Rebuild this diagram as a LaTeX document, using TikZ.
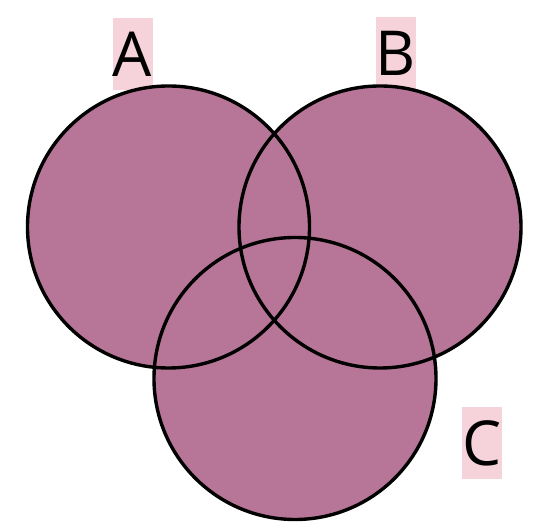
\documentclass[tikz,border=0pt]{standalone}
\usepackage{fontspec}
\setmainfont{Open Sans}
\definecolor{setfill}{RGB}{183,118,152}
\definecolor{tagpink}{RGB}{246,211,218}
\begin{document}
\begin{tikzpicture}[x=1pt, y=1pt,
  settag/.style={fill=tagpink, inner sep=0pt, minimum width=40pt, minimum height=72pt,
    font=\fontsize{62}{62}\selectfont},
  setline/.style={draw=black, line width=3.4pt}]
  \useasboundingbox (0,0) rectangle (544,532);
  % labels (behind the circles)
  \node[settag] (tagA) at (132.5,478) {A};
  \node[settag] (tagB) at (396,478.5) {B};
  \node[settag] (tagC) at (482,88.5) {C};

  % circle centres
  \coordinate (cA) at (168.5,305);
  \coordinate (cB) at (380,305);
  \coordinate (cC) at (295,153.5);

  % fills first, then outlines on top
  \foreach \c in {cA,cB,cC} \fill[setfill] (\c) circle (141);
  \foreach \c in {cA,cB,cC} \draw[setline] (\c) circle (141);
\end{tikzpicture}
\end{document}
